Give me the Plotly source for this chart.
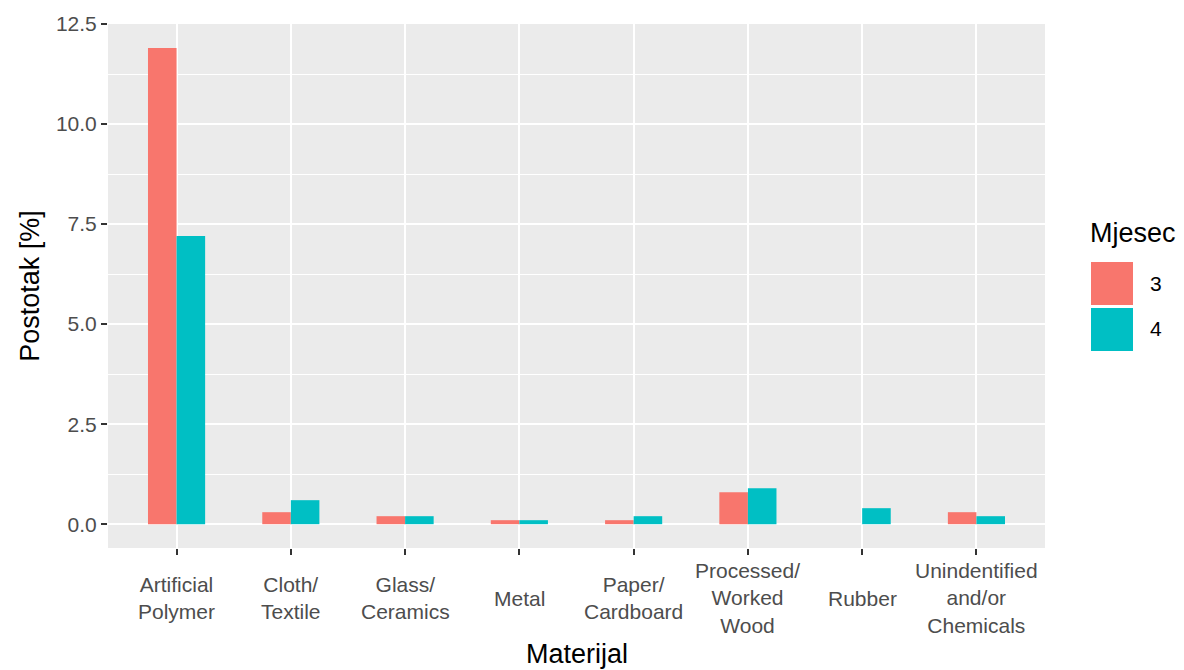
import plotly.graph_objects as go

categories = ["Artificial Polymer", "Cloth/ Textile", "Glass/ Ceramics", "Metal",
              "Paper/ Cardboard", "Processed/ Worked Wood", "Rubber",
              "Unindentified and/or Chemicals"]
cat_labels = ["Artificial<br>Polymer", "Cloth/<br>Textile", "Glass/<br>Ceramics", "Metal",
              "Paper/<br>Cardboard", "Processed/<br>Worked<br>Wood", "Rubber",
              "Unindentified<br>and/or<br>Chemicals"]
series_names = ["3", "4"]
values_3 = [11.9, 0.3, 0.2, 0.1, 0.1, 0.8, 0.0, 0.3]
values_4 = [7.2, 0.6, 0.2, 0.1, 0.2, 0.9, 0.4, 0.2]
colors = ["#F8766D", "#00BFC4"]
y_ticks = [0, 2.5, 5, 7.5, 10, 12.5]
y_tick_text = ["0.0", "2.5", "5.0", "7.5", "10.0", "12.5"]
y_minor = [1.25, 3.75, 6.25, 8.75, 11.25]

FONT = "Liberation Sans, Arial, sans-serif"
OFF = 8  # browser body margin
W, H = 1184 - OFF, 670 - OFF
# panel edges in reference pixels
RL, RR, RT, RB = 108, 1045, 24, 548
L, T = RL - OFF, RT - OFF
R = W - (RR - OFF)
B = H - (RB - OFF)
pw, ph = W - L - R, H - T - B


def px(rx):
    return (rx - RL) / pw


def py(ry):
    return (RB - ry) / ph


fig = go.Figure()
for name, vals, col in zip(series_names, [values_3, values_4], colors):
    fig.add_trace(go.Bar(x=categories, y=vals, name=name, marker_color=col,
                         marker_line_width=0, showlegend=False))

# category labels (vertically centred like ggplot)
for cat, lab in zip(categories, cat_labels):
    fig.add_annotation(x=cat, y=py(598), xref="x", yref="paper", text=lab,
                       showarrow=False, xanchor="center", yanchor="middle",
                       font=dict(family=FONT, size=21, color="#4D4D4D"))

# x axis title
fig.add_annotation(x=0.5, y=py(654), xref="paper", yref="paper", text="Materijal",
                   showarrow=False, xanchor="center", yanchor="middle",
                   font=dict(family=FONT, size=27, color="black"))

# custom legend
fig.add_annotation(x=px(1088), y=py(233), xref="paper", yref="paper", text="Mjesec",
                   showarrow=False, xanchor="left", yanchor="middle",
                   font=dict(family=FONT, size=27, color="black"))
key_tops = [262, 308]
for name, col, top in zip(series_names, colors, key_tops):
    fig.add_shape(type="rect", xref="paper", yref="paper",
                  x0=px(1091), x1=px(1133), y0=py(top + 43), y1=py(top),
                  fillcolor=col, line_width=0)
    fig.add_annotation(x=px(1148), y=py(top + 21), xref="paper", yref="paper",
                       text=name, showarrow=False, xanchor="left", yanchor="middle",
                       font=dict(family=FONT, size=21, color="black"))

fig.update_layout(
    width=W, height=H,
    margin=dict(l=L, r=R, t=T, b=B, pad=0),
    barmode="group", bargap=0.5, bargroupgap=0,
    plot_bgcolor="#EBEBEB", paper_bgcolor="white",
    font=dict(family=FONT),
    showlegend=False,
)
fig.update_xaxes(range=[-0.6, 7.6], showticklabels=False, ticks="outside",
                 ticklen=6, tickwidth=1.5, tickcolor="#333333",
                 showgrid=True, gridcolor="white", gridwidth=1.5,
                 zeroline=False, showline=False, automargin=False)
fig.update_yaxes(range=[-0.595, 12.5], tickvals=y_ticks, ticktext=y_tick_text,
                 ticks="outside", ticklen=6, tickwidth=1.5, tickcolor="#333333",
                 tickfont=dict(family=FONT, size=21, color="#4D4D4D"),
                 showgrid=True, gridcolor="white", gridwidth=1.5,
                 minor=dict(tickvals=y_minor, showgrid=True,
                            gridcolor="white", gridwidth=0.7, ticks=""),
                 zeroline=False, showline=False, automargin=False,
                 title=dict(text="Postotak [%]", font=dict(family=FONT, size=27, color="black"),
                            standoff=8))

fig.write_html("out.html")
